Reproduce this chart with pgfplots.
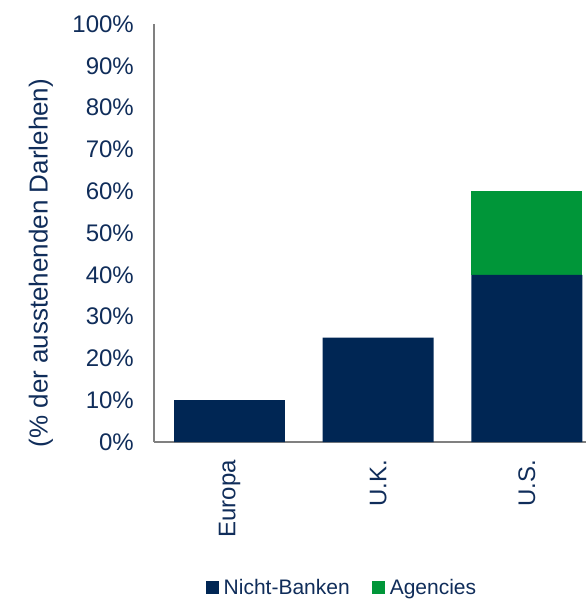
\documentclass[border=0pt]{standalone}
\usepackage{fontspec}
\setmainfont{Liberation Sans}
\usepackage{pgfplots}
\pgfplotsset{compat=1.18}
\definecolor{navy}{RGB}{0,38,84}
\definecolor{agreen}{RGB}{0,150,57}
\definecolor{txt}{RGB}{16,45,90}
\definecolor{axgray}{RGB}{128,128,128}
\begin{document}
\begin{tikzpicture}[x=1pt,y=1pt]
\useasboundingbox (-154,-157) rectangle (432,442);
\begin{axis}[
  at={(0,0)}, anchor=south west,
  scale only axis, width=432pt, height=418pt,
  xmin=-0.5076, xmax=2.397, ymin=0, ymax=100,
  axis x line*=bottom, axis y line*=left,
  axis line style={draw=axgray, line width=2.8pt},
  every inner x axis line/.append style={-},
  every inner y axis line/.append style={-},
  ybar stacked, bar width=0.746, bar shift=0pt,
  xtick={0,1,2}, xticklabels={Europa,U.K.,U.S.},
  ytick={0,10,20,30,40,50,60,70,80,90,100},
  yticklabels={0\%,10\%,20\%,30\%,40\%,50\%,60\%,70\%,80\%,90\%,100\%},
  major tick length=0pt,
  tick label style={font=\fontsize{24}{28}\selectfont, text=txt},
  yticklabel style={inner sep=0pt, anchor=east, xshift=-20pt},
  xticklabel style={inner sep=0pt, rotate=90, anchor=east, xshift=-18pt},
  ylabel={(\% der ausstehenden Darlehen)},
  ylabel style={at={(axis description cs:-0.2616,0.428)}, anchor=center,
    font=\fontsize{26}{30}\selectfont, text=txt},
  legend style={at={(axis description cs:0.435,-0.349)}, anchor=center, draw=none,
    font=\fontsize{21}{25}\selectfont, text=txt, legend columns=2,
    /tikz/every odd column/.append style={column sep=3pt},
    /tikz/every even column/.append style={column sep=20pt}},
  legend image code/.code={\fill[#1] (0pt,-6.5pt) rectangle (13pt,6.5pt);},
  clip=false,
]
\addplot[fill=navy, draw=none] coordinates {(0,10) (1,25) (2,40)};
\addlegendentry{Nicht-Banken}
\addplot[fill=agreen, draw=none] coordinates {(0,0) (1,0) (2,20)};
\addlegendentry{Agencies}
\end{axis}
\end{tikzpicture}
\end{document}
